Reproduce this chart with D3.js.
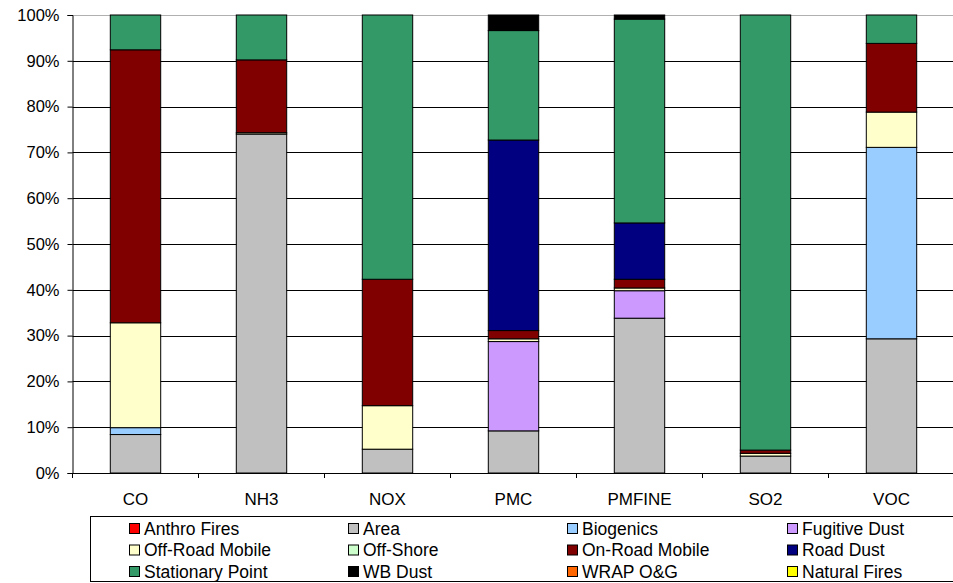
<!DOCTYPE html>
<html>
<head>
<meta charset="utf-8">
<script src="https://cdn.jsdelivr.net/npm/d3@7"></script>
<style>
  html, body { margin: 0; padding: 0; background: #fff; }
  svg { display: block; font-family: "Liberation Sans", Arial, sans-serif; }
</style>
</head>
<body>
<svg id="chart" width="953" height="583"></svg>
<script>
// Pollutant categories along the x axis
const categories = ["CO", "NH3", "NOX", "PMC", "PMFINE", "SO2", "VOC"];

// Source sectors, bottom of the stack first (also legend order)
const sectors = ["Anthro Fires", "Area", "Biogenics", "Fugitive Dust",
  "Off-Road Mobile", "Off-Shore", "On-Road Mobile", "Road Dust",
  "Stationary Point", "WB Dust", "WRAP O&G", "Natural Fires"];

const sectorColors = ["#FF0000", "#C0C0C0", "#99CCFF", "#CC99FF",
  "#FFFFCC", "#CCFFCC", "#800000", "#000080",
  "#339966", "#000000", "#FF6600", "#FFFF00"];

// Percent share of each sector, per pollutant (CO, NH3, NOX, PMC, PMFINE, SO2, VOC)
const anthroFires    = [0, 0, 0, 0, 0, 0, 0];
const area           = [8.4, 74.0, 5.2, 9.2, 33.8, 3.7, 29.3];
const biogenics      = [1.5, 0, 0, 0, 0, 0, 41.8];
const fugitiveDust   = [0, 0, 0, 19.5, 6.0, 0, 0];
const offRoadMobile  = [22.9, 0.3, 9.5, 0.6, 0.6, 0.6, 7.7];
const offShore       = [0, 0, 0, 0, 0, 0, 0];
const onRoadMobile   = [59.6, 15.9, 27.6, 1.8, 1.9, 0.7, 15.0];
const roadDust       = [0, 0, 0, 41.6, 12.3, 0, 0];
const stationaryPt   = [7.6, 9.8, 57.7, 23.9, 44.5, 95.0, 6.2];
const wbDust         = [0, 0, 0, 3.4, 0.9, 0, 0];
const wrapOG         = [0, 0, 0, 0, 0, 0, 0];
const naturalFires   = [0, 0, 0, 0, 0, 0, 0];

const yTicks = [0, 10, 20, 30, 40, 50, 60, 70, 80, 90, 100];

const seriesValues = [anthroFires, area, biogenics, fugitiveDust, offRoadMobile,
  offShore, onRoadMobile, roadDust, stationaryPt, wbDust, wrapOG, naturalFires];

// Row table for d3.stack
const rows = categories.map((c, i) => {
  const r = { category: c };
  sectors.forEach((s, k) => { r[s] = seriesValues[k][i]; });
  return r;
});

const svg = d3.select("#chart");
const plot = { left: 72.5, top: 15, bottom: 473, right: 954.5 };

const x = d3.scaleBand().domain(categories)
  .range([plot.left, plot.right]).paddingInner(0.6).paddingOuter(0.3);
const y = d3.scaleLinear().domain([0, 100]).range([plot.bottom, plot.top]);
const color = d3.scaleOrdinal().domain(sectors).range(sectorColors);

// Horizontal gridlines
svg.append("g").selectAll("line").data(yTicks.filter(t => t > 0 && t < 100)).join("line")
  .attr("x1", plot.left).attr("x2", 953)
  .attr("y1", d => Math.round(y(d)) + 0.5).attr("y2", d => Math.round(y(d)) + 0.5)
  .attr("stroke", "#000").attr("stroke-width", 1);

// Plot-area top border
svg.append("line").attr("x1", plot.left).attr("x2", 953)
  .attr("y1", plot.top + 0.5).attr("y2", plot.top + 0.5)
  .attr("stroke", "#b0b0b0");

// Stacked bars
const stacked = d3.stack().keys(sectors)(rows);
svg.append("g").selectAll("g").data(stacked).join("g")
  .attr("fill", d => color(d.key))
  .selectAll("rect").data(d => d.filter(s => s[1] - s[0] > 0)).join("rect")
  .attr("x", d => x(d.data.category))
  .attr("width", x.bandwidth())
  .attr("y", d => y(d[1]))
  .attr("height", d => y(d[0]) - y(d[1]))
  .attr("stroke", "#000").attr("stroke-width", 1);

// Y axis
const yAxis = svg.append("g").attr("transform", `translate(${plot.left},0)`)
  .call(d3.axisLeft(y).tickValues(yTicks).tickFormat(d => d + "%").tickSize(5).tickPadding(8));
yAxis.select(".domain").attr("stroke", "#000");
yAxis.selectAll(".tick line").attr("stroke", "#000");
yAxis.selectAll("text").attr("font-size", "16.5px").attr("fill", "#000")
  .attr("font-family", "'Liberation Sans', Arial, sans-serif");

// X axis with ticks between categories
const step = x.step();
const xBoundaries = d3.range(categories.length + 1).map(i => plot.left + i * (plot.right - plot.left) / categories.length);
svg.append("line").attr("x1", plot.left).attr("x2", 953)
  .attr("y1", plot.bottom + 0.5).attr("y2", plot.bottom + 0.5).attr("stroke", "#000");
svg.append("g").selectAll("line").data(xBoundaries).join("line")
  .attr("x1", d => d).attr("x2", d => d)
  .attr("y1", plot.bottom).attr("y2", plot.bottom + 5)
  .attr("stroke", "#000");
svg.append("g").selectAll("text").data(categories).join("text")
  .attr("x", d => x(d) + x.bandwidth() / 2)
  .attr("y", 505)
  .attr("text-anchor", "middle")
  .attr("font-size", "17px")
  .attr("fill", "#000")
  .text(d => d);

// Legend
const legend = svg.append("g");
legend.append("rect").attr("x", 90.5).attr("y", 516.5).attr("width", 900).attr("height", 65)
  .attr("fill", "#fff").attr("stroke", "#000");
const colX = [129, 348, 567, 787];
const rowY = [528, 549.5, 571];
const items = legend.selectAll("g.item").data(sectors).join("g").attr("class", "item")
  .attr("transform", (d, i) => `translate(${colX[i % 4]},${rowY[Math.floor(i / 4)]})`);
items.append("rect").attr("x", 0.5).attr("y", -4.5).attr("width", 10).attr("height", 10)
  .attr("fill", d => color(d)).attr("stroke", "#000");
items.append("text").attr("x", 15).attr("y", 6.5)
  .attr("font-size", "17.5px").attr("fill", "#000").text(d => d);
</script>
</body>
</html>
